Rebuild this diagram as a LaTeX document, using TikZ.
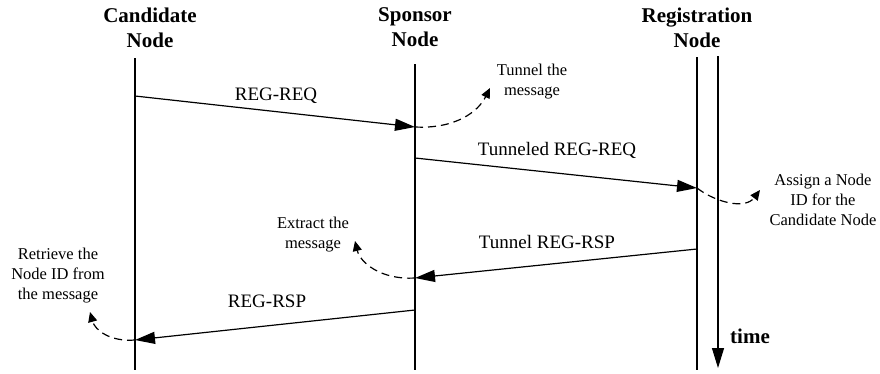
\documentclass[tikz,border=0pt]{standalone}
\usepackage{fontspec}
\setmainfont{Liberation Serif}
\usetikzlibrary{arrows.meta}
\begin{document}
\begin{tikzpicture}[x=1pt,y=-1pt,line width=1.2pt,
  head/.style={font=\fontsize{21}{25}\selectfont\bfseries,align=center,inner sep=0pt},
  msglabel/.style={font=\fontsize{19}{22}\selectfont,inner sep=0pt},
  note/.style={font=\fontsize{16.5}{20}\selectfont,align=center,inner sep=0pt},
  msg/.style={-{Triangle[length=20pt,width=12pt]}},
  act/.style={dash pattern=on 8pt off 5pt,-{Triangle[length=10pt,width=9pt]}}]
\useasboundingbox (0,0) rectangle (880,373);

% participants
\node[head] (cand) at (150,27.5) {Candidate\\Node};
\node[head] (spon) at (415,27.5) {Sponsor\\Node};
\node[head] (reg)  at (697,27.5) {Registration\\Node};

% lifelines
\coordinate (candTop) at (135,58);  \coordinate (candBot) at (135,370);
\coordinate (sponTop) at (415,64);  \coordinate (sponBot) at (415,370);
\coordinate (regTop)  at (697,57);  \coordinate (regBot)  at (697,370);
\draw (candTop) -- (candBot);
\draw (sponTop) -- (sponBot);
\draw (regTop) -- (regBot);

% time axis
\coordinate (tTop) at (718,56);
\coordinate (tBot) at (718,368);
\draw[msg] (tTop) -- (tBot);
\node[font=\fontsize{21}{25}\selectfont\bfseries,inner sep=0pt] (time) at (750,336) {time};

% message end points
\coordinate (m1s) at (135,96);  \coordinate (m1e) at (415,127);
\coordinate (m2s) at (415,158); \coordinate (m2e) at (697,188);
\coordinate (m3s) at (697,249); \coordinate (m3e) at (415,278);
\coordinate (m4s) at (415,310); \coordinate (m4e) at (135,340);

% messages
\draw[msg] (m1s) -- (m1e);
\draw[msg] (m2s) -- (m2e);
\draw[msg] (m3s) -- (m3e);
\draw[msg] (m4s) -- (m4e);
\node[msglabel] (l1) at (276,96)  {REG-REQ};
\node[msglabel] (l2) at (557,150) {Tunneled REG-REQ};
\node[msglabel] (l3) at (547,242) {Tunnel REG-RSP};
\node[msglabel] (l4) at (267,301) {REG-RSP};

% local actions
\node[note] (n1) at (532,82)  {Tunnel the\\message};
\node[note] (n2) at (823,200) {Assign a Node\\ID for the\\Candidate Node};
\node[note] (n3) at (313,235) {Extract the\\message};
\node[note] (n4) at (58,276)  {Retrieve the\\Node ID from\\the message};

\coordinate (a1) at (490,88);
\coordinate (a2) at (760,190);
\coordinate (a3) at (355,241);
\coordinate (a4) at (90,312);
\draw[act] (m1e) .. controls (455,129) and (478,112) .. (a1);
\draw[act] (m2e) .. controls (715,202) and (745,210) .. (a2);
\draw[act] (m3e) .. controls (380,280) and (360,262) .. (a3);
\draw[act] (m4e) .. controls (110,342) and (95,330) .. (a4);
\end{tikzpicture}
\end{document}
